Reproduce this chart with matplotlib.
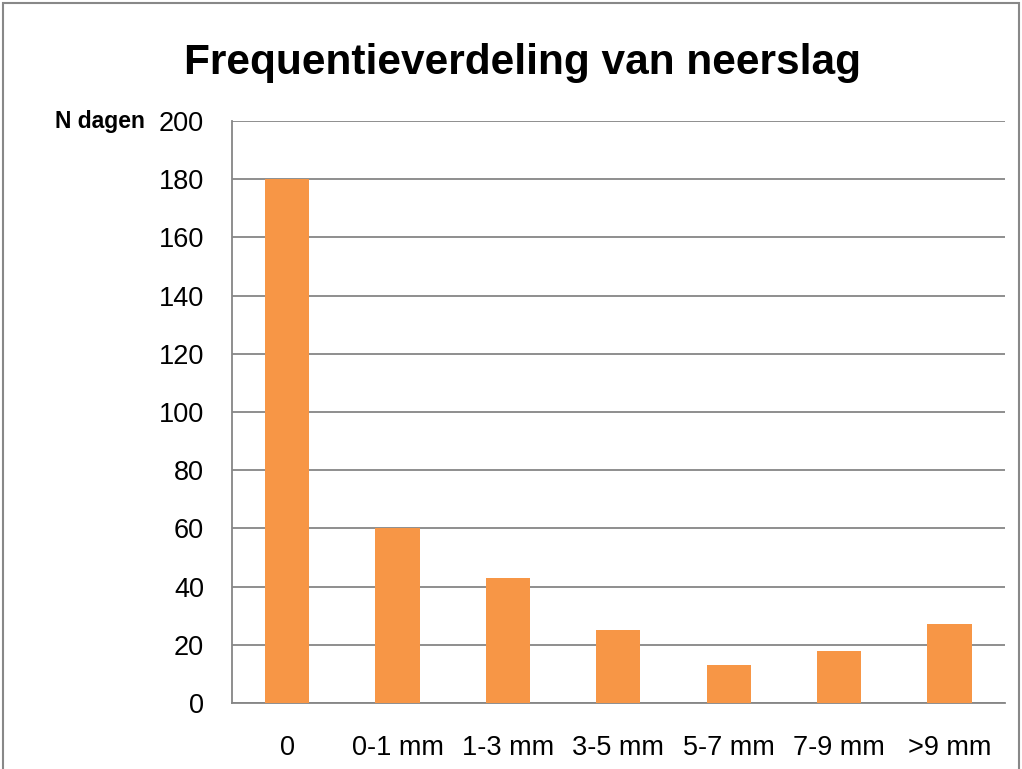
import matplotlib.pyplot as plt
from matplotlib.patches import Rectangle

plt.rcParams['font.family'] = ['Liberation Sans', 'DejaVu Sans']

klassen = ['0', '0-1 mm', '1-3 mm', '3-5 mm', '5-7 mm', '7-9 mm', '>9 mm']
dagen = [180, 60, 43, 25, 13, 18, 27]
y_ticks = [0, 20, 40, 60, 80, 100, 120, 140, 160, 180, 200]

fig = plt.figure(figsize=(10.22, 7.69), dpi=100)
ax = fig.add_axes([0.227, 0.0858, 0.756, 0.7569])

ax.bar(range(len(klassen)), dagen, width=0.4, color='#F79646', zorder=3)
ax.set_xlim(-0.5, len(klassen) - 0.5)
ax.set_ylim(0, 200)
ax.set_yticks(y_ticks)
ax.set_xticks(range(len(klassen)))
ax.set_xticklabels(klassen)
ax.grid(axis='y', color='#868686', linewidth=1.3, zorder=0)
ax.tick_params(axis='both', length=0, labelsize=19.5, colors='black')
ax.tick_params(axis='y', pad=20)
ax.tick_params(axis='x', pad=23)
for side in ['top', 'right']:
    ax.spines[side].set_visible(False)
for side in ['left', 'bottom']:
    ax.spines[side].set_color('#868686')
    ax.spines[side].set_linewidth(1.3)

fig.text(0.511, 0.918, 'Frequentieverdeling van neerslag', ha='center', va='center',
         fontsize=30.5, fontweight='bold')
fig.text(0.142, 0.842, 'N dagen', ha='right', va='center', fontsize=16.5, fontweight='bold')

fig.patches.append(Rectangle((0.003, -0.05), 0.994, 1.046, transform=fig.transFigure,
                             fill=False, edgecolor='#888888', linewidth=1.5))

fig.savefig('out.png', dpi=100)
